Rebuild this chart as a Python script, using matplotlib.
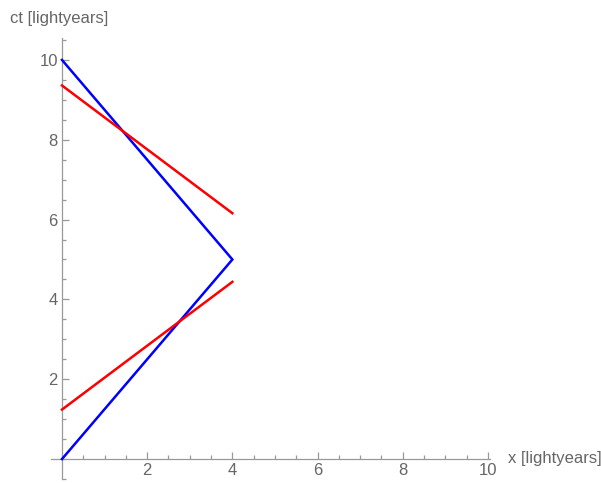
import numpy as np
import matplotlib
matplotlib.use('Agg')
import matplotlib.pyplot as plt
from matplotlib.ticker import MultipleLocator, FixedLocator

plt.rcParams['font.family'] = ['Liberation Sans', 'DejaVu Sans']

# worldline (blue) and lines of simultaneity (red)
blue_x = [0, 4, 0]
blue_ct = [0, 5, 10]
red1_x = [0, 4]
red1_ct = [1.24, 4.44]
red2_x = [0, 4]
red2_ct = [9.36, 6.16]

major_ticks = [2, 4, 6, 8, 10]

gris = '#666666'
fig = plt.figure(figsize=(6.01, 4.83), dpi=100)
ax = fig.add_axes([51.35 / 601, 4 / 483, 438.75 / 601, 441 / 483])

ax.plot(blue_x, blue_ct, color=(0, 0, 1), lw=1.8, solid_joinstyle='miter', zorder=3)
ax.plot(red1_x, red1_ct, color=(1, 0, 0), lw=1.8, zorder=3)
ax.plot(red2_x, red2_ct, color=(1, 0, 0), lw=1.8, zorder=3)

ax.set_xlim(-0.25, 10.05)
ax.set_ylim(-0.5, 10.55)

for s in ['top', 'right']:
    ax.spines[s].set_visible(False)
ax.spines['left'].set_position(('data', 0))
ax.spines['bottom'].set_position(('data', 0))
for s in ['left', 'bottom']:
    ax.spines[s].set_color('#999999')
    ax.spines[s].set_linewidth(0.9)

ax.xaxis.set_major_locator(FixedLocator(major_ticks))
ax.yaxis.set_major_locator(FixedLocator(major_ticks))
ax.xaxis.set_minor_locator(MultipleLocator(0.5))
ax.yaxis.set_minor_locator(MultipleLocator(0.5))
ax.tick_params(which='both', direction='in', color='#999999', width=0.9,
               labelcolor=gris, labelsize=12)
ax.tick_params(which='major', length=5, pad=3)
ax.tick_params(which='minor', length=3)
ax.patch.set_alpha(0)

fig.text(10 / 601, 1 - 18 / 483, 'ct [lightyears]', color=gris, fontsize=12,
         ha='left', va='center')
fig.text(508 / 601, 1 - 458 / 483, 'x [lightyears]', color=gris, fontsize=12,
         ha='left', va='center')

fig.savefig('out.png', dpi=100)
